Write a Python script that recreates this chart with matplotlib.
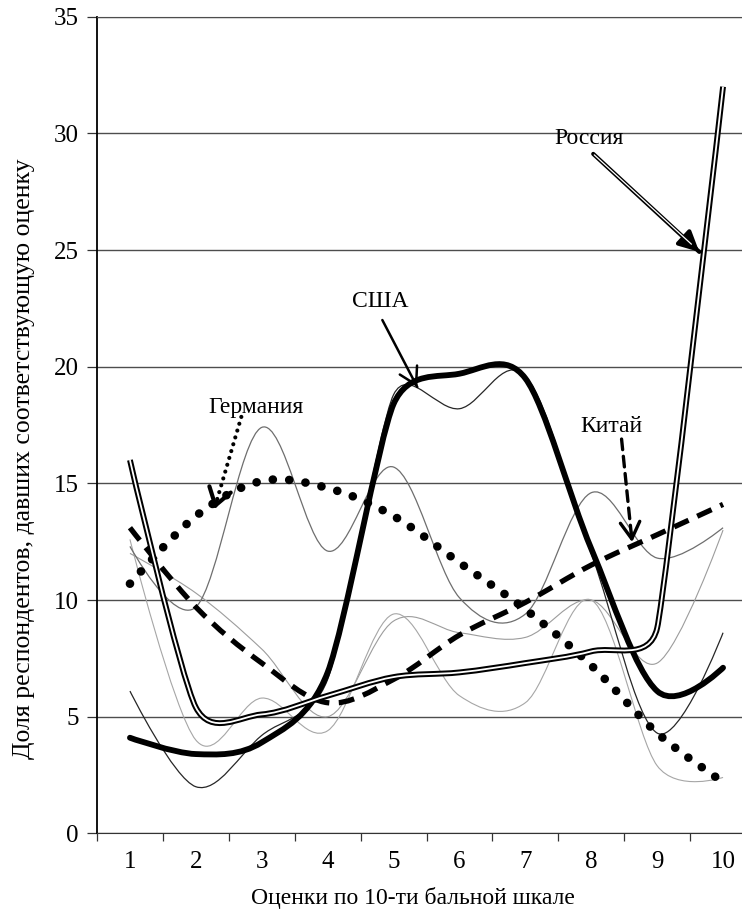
import numpy as np
import matplotlib
matplotlib.use("Agg")
import matplotlib.pyplot as plt
from matplotlib.path import Path
from matplotlib.patches import PathPatch

plt.rcParams['font.family'] = ['Liberation Serif', 'DejaVu Serif']

# --- data (share of respondents, %) ---
scores = [1, 2, 3, 4, 5, 6, 7, 8, 9, 10]
russia = [16.0, 5.4, 5.1, 5.9, 6.7, 6.9, 7.3, 7.8, 8.8, 32.0]
usa = [4.1, 3.4, 3.9, 6.9, 18.4, 19.7, 19.5, 12.2, 6.1, 7.1]
germany = [10.7, 13.6, 15.1, 14.8, 13.6, 11.6, 9.6, 7.2, 4.3, 2.2]
china = [13.1, 9.7, 7.3, 5.6, 6.6, 8.5, 9.9, 11.5, 12.8, 14.1]
# unlabeled countries (thin lines)
other_a = [12.3, 9.7, 17.4, 12.1, 15.7, 10.1, 9.4, 14.6, 11.8, 13.1]
other_b = [6.1, 2.0, 4.2, 6.6, 18.8, 18.2, 19.6, 12.0, 4.3, 8.6]
other_c = [12.0, 10.3, 7.9, 5.0, 9.1, 8.6, 8.4, 10.0, 7.3, 13.0]
other_d = [12.6, 4.0, 5.8, 4.4, 9.4, 5.9, 5.6, 10.0, 2.9, 2.4]

y_ticks = [0, 5, 10, 15, 20, 25, 30, 35]
x_label = 'Оценки по 10-ти бальной шкале'
y_label = 'Доля респондентов, давших соответствующую оценку'


def excel_smooth(ax, xs, ys):
    # bezier path like Excel's smoothed line; control points worked out in screen space
    pts = ax.transData.transform(np.column_stack([xs, ys]).astype(float))
    ext = np.vstack([pts[0], pts, pts[-1]])
    n = len(pts)
    f = np.zeros(n)
    for i in range(n):
        p0, p1, p2 = ext[i], ext[i + 1], ext[i + 2]
        d01 = np.hypot(*(p1 - p0))
        d12 = np.hypot(*(p2 - p1))
        d02 = np.hypot(*(p2 - p0))
        f[i] = 1 / 6
        if d02 > 0 and d02 / 6 > min(d01, d12) / 2:
            f[i] = min(d01, d12) / (2 * d02)
    verts = [pts[0]]
    codes = [Path.MOVETO]
    for i in range(n - 1):
        c1 = ext[i + 1] + f[i] * (ext[i + 2] - ext[i])
        c2 = ext[i + 2] - f[i + 1] * (ext[i + 3] - ext[i + 1])
        verts += [c1, c2, ext[i + 2]]
        codes += [Path.CURVE4] * 3
    verts = ax.transData.inverted().transform(np.array(verts))
    return Path(verts, codes)


def add_curve(ax, ys, **kw):
    p = PathPatch(excel_smooth(ax, scores, ys), fill=False, joinstyle='round', **kw)
    ax.add_patch(p)


def pointer(ax, start, tip, lw, ls='-', style='->', hl=0.6, hw=0.35):
    s = np.array(start, float)
    t = np.array(tip, float)
    ax.annotate('', xy=t, xytext=s,
                arrowprops=dict(arrowstyle='-', lw=lw, linestyle=ls, color='black',
                                shrinkA=0, shrinkB=0, capstyle='round'))
    ax.annotate('', xy=t, xytext=s + 0.92 * (t - s),
                arrowprops=dict(arrowstyle='%s,head_length=%s,head_width=%s' % (style, hl, hw),
                                lw=lw, color='black', shrinkA=0, shrinkB=0,
                                mutation_scale=20))


fig = plt.figure(figsize=(7.42, 9.17), dpi=100)
ax = fig.add_axes([97 / 742, (917 - 833.4) / 917, (742 - 97) / 742, (833.4 - 16.7) / 917])
ax.set_xlim(0.5, 0.5 + (742 - 97) / 65.9)
ax.set_ylim(0, 35)

ax.set_xticks(scores)
ax.set_xticklabels([str(s) for s in scores])
ax.set_xticks(np.arange(0.5, 10, 1), minor=True)
ax.tick_params(axis='x', which='major', length=0, pad=13, labelsize=18)
ax.tick_params(axis='x', which='minor', length=6, width=0.9, direction='out', color='#333333')
ax.set_yticks(y_ticks)
ax.tick_params(axis='y', length=7, width=0.9, pad=6, labelsize=18, color='#333333')
ax.yaxis.grid(True, color='#4d4d4d', lw=1.0)
ax.set_axisbelow(True)
ax.spines['right'].set_visible(False)
ax.spines['top'].set_color('#4d4d4d')
ax.spines['left'].set_linewidth(1.3)
ax.spines['bottom'].set_color('#333333')

# thin lines of the other countries
add_curve(ax, other_c, edgecolor='#9c9c9c', lw=0.8, zorder=2)
add_curve(ax, other_d, edgecolor='#a6a6a6', lw=0.8, zorder=2)
add_curve(ax, other_a, edgecolor='#6e6e6e', lw=0.9, zorder=2)
add_curve(ax, other_b, edgecolor='#262626', lw=0.9, zorder=2)

# labelled countries
add_curve(ax, china, edgecolor='black', lw=3.8, linestyle=(0, (3.0, 1.8)), zorder=4)
add_curve(ax, germany, edgecolor='black', lw=6.2, linestyle=(0, (0.01, 1.9)),
          capstyle='round', zorder=4)
add_curve(ax, usa, edgecolor='black', lw=4.2, capstyle='round', zorder=5)
add_curve(ax, russia, edgecolor='black', lw=4.2, zorder=6)
add_curve(ax, russia, edgecolor='white', lw=1.3, zorder=7)

# labels with pointers
ax.text(4.80, 22.8, 'США', fontsize=17, ha='center', va='center')
pointer(ax, (4.83, 22.0), (5.36, 19.13), lw=1.8)

ax.text(2.91, 18.25, 'Германия', fontsize=17, ha='center', va='center')
pointer(ax, (2.69, 17.85), (2.28, 13.9), lw=3.0, ls=(0, (0.01, 1.7)), hl=0.6, hw=0.4)

ax.text(8.31, 17.42, 'Китай', fontsize=17, ha='center', va='center')
pointer(ax, (8.46, 16.9), (8.62, 12.48), lw=2.4, ls=(0, (3.2, 2.0)), hl=0.6, hw=0.35)

ax.text(7.96, 29.77, 'Россия', fontsize=17, ha='center', va='center')
pointer(ax, (8.03, 29.12), (9.64, 24.92), lw=3.0, style='-|>', hl=0.6, hw=0.3)
ax.annotate('', xy=(9.52, 25.25), xytext=(8.03, 29.12),
            arrowprops=dict(arrowstyle='-', lw=0.9, color='white', shrinkA=1, shrinkB=0))

fig.text(24 / 742, 1 - 459 / 917, y_label, rotation=90, ha='center', va='center', fontsize=18.5)
fig.text(413 / 742, 1 - 898 / 917, x_label, ha='center', va='center', fontsize=17)

fig.savefig('out.png', dpi=100)
